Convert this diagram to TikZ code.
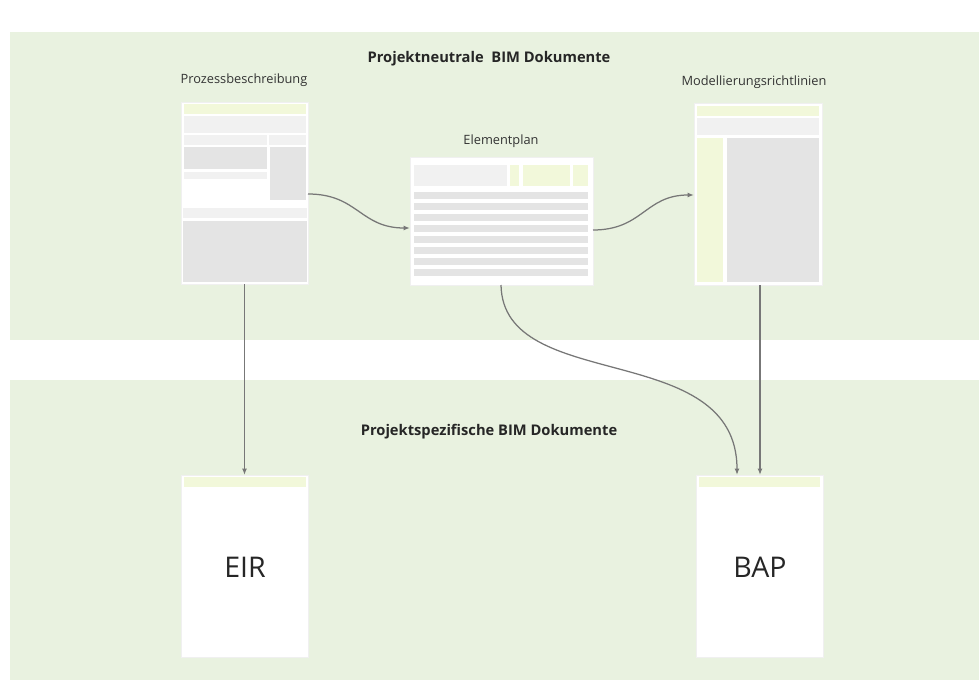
\documentclass[tikz,border=0pt]{standalone}
\usepackage{fontspec}
\setmainfont{Open Sans}
\usetikzlibrary{arrows.meta}
\definecolor{band}{HTML}{E9F2E0}
\definecolor{hdr}{HTML}{F2F8DA}
\definecolor{lgrey}{HTML}{F1F1F1}
\definecolor{dgrey}{HTML}{E4E4E4}
\definecolor{conn}{HTML}{777777}
\tikzset{
  docbox/.style={fill=white, draw=white!94!black, line width=0.4pt, inner sep=0pt, outer sep=0pt, anchor=north west},
  label/.style={font=\fontsize{12.8}{15}\selectfont, text=black!80, inner sep=0pt},
  title/.style={font=\bfseries\fontsize{14.7}{17}\selectfont, text=black!85, inner sep=0pt},
  big/.style={font=\fontsize{28.5}{31}\selectfont, text=black!85, inner sep=0pt},
  flow/.style={draw=conn, line width=1.25pt, -{Latex[length=6.5pt,width=5pt]}}
}
\begin{document}
\begin{tikzpicture}[x=1pt,y=-1pt]
\useasboundingbox (0,0) rectangle (979,698);
\fill[white] (0,0) rectangle (979,698);
% background bands
\fill[band] (10,32) rectangle (979,340);
\fill[band] (10,380) rectangle (979,680);

% headings
\node[title] (t1) at (489,59) {Projektneutrale\ \ BIM Dokumente};
\node[title] (t2) at (489,432) {Projektspezifische BIM Dokumente};

% document labels
\node[label] (l1) at (244,80) {Prozessbeschreibung};
\node[label] (l2) at (501,141) {Elementplan};
\node[label] (l3) at (754,82) {Modellierungsrichtlinien};

% Prozessbeschreibung
\node[docbox, minimum width=127pt, minimum height=182pt] (pb) at (181,102) {};
\fill[hdr]   (184,104) rectangle (306,114);
\fill[lgrey] (184,116) rectangle (306,133);
\fill[lgrey] (184,135) rectangle (267,145);
\fill[lgrey] (269,135) rectangle (306,145);
\fill[dgrey] (184,147) rectangle (267,169);
\fill[dgrey] (270,147) rectangle (306,200);
\fill[lgrey] (184,172) rectangle (267,179);
\fill[lgrey] (183,208) rectangle (307,218);
\fill[dgrey] (183,221) rectangle (307,282);

% Elementplan
\node[docbox, minimum width=183pt, minimum height=128pt] (ep) at (410,157) {};
\fill[lgrey] (414,165) rectangle (507,186);
\fill[hdr]   (510,165) rectangle (519,186);
\fill[hdr]   (523,165) rectangle (570,186);
\fill[hdr]   (573,165) rectangle (588,186);
\foreach \y in {192,203,214,225,236,247,258,269}
  \fill[dgrey] (414,\y) rectangle (588,\y+7);

% Modellierungsrichtlinien
\node[docbox, minimum width=128pt, minimum height=182pt] (mr) at (694,103) {};
\fill[hdr]   (697,106) rectangle (819,116);
\fill[lgrey] (697,118) rectangle (819,135);
\fill[hdr]   (697,138) rectangle (723,282);
\fill[dgrey] (727,138) rectangle (819,282);

% EIR
\node[docbox, minimum width=127pt, minimum height=182pt] (eir) at (181,475) {};
\fill[hdr] (184,477) rectangle (306,487);
\node[big] (eirt) at (245,567) {EIR};

% BAP
\node[docbox, minimum width=127pt, minimum height=182pt] (bap) at (696,475) {};
\fill[hdr] (699,477) rectangle (820,487);
\node[big] (bapt) at (760,567) {BAP};

% connectors
\coordinate (pbR) at (pb.east |- 0,194);
\coordinate (epL) at (ep.west |- 0,228);
\coordinate (epR) at (ep.east |- 0,230);
\coordinate (mrL) at (mr.west |- 0,195);
\coordinate (epB) at (501,285);
\coordinate (bapA) at (737,475);
\coordinate (mrB) at (760,285);
\coordinate (bapB) at (760,475);
\draw[flow] (pbR) .. controls (358,194) and (360,228) .. (epL);
\draw[flow] (epR) .. controls (643,230) and (645,195) .. (mrL);
\draw[flow] (pb.south) -- (eir.north);
\draw[flow] (epB) .. controls (503,395) and (737,338) .. (bapA);
\draw[flow] (mrB) -- (bapB);
\end{tikzpicture}
\end{document}
